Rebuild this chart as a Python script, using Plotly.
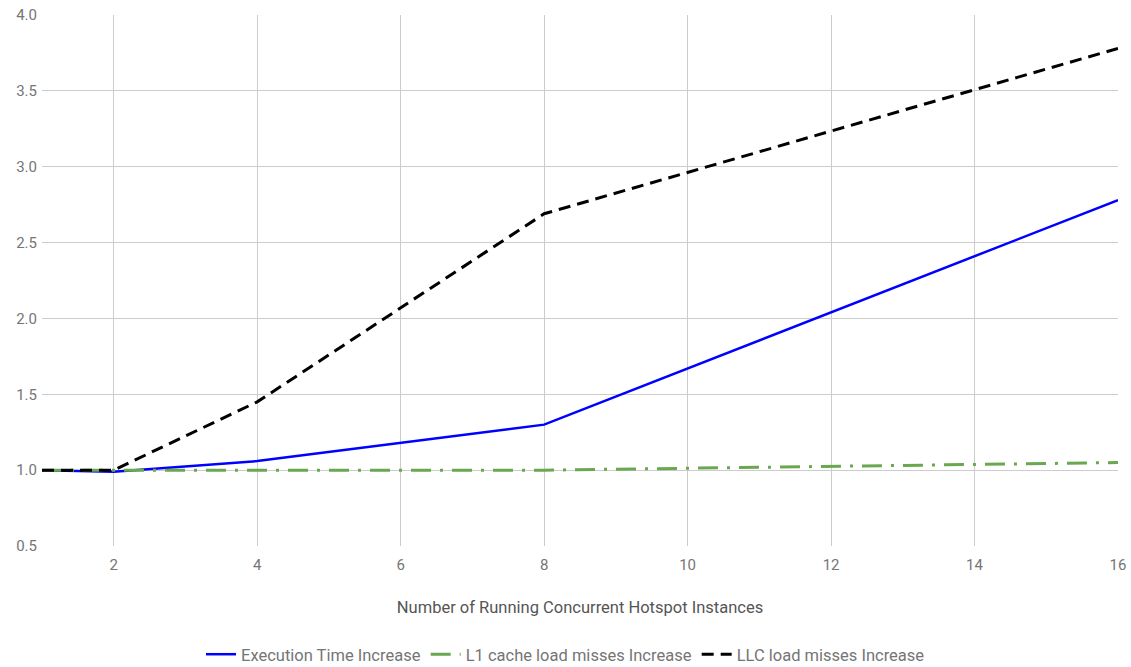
import plotly.graph_objects as go

# Number of concurrent Hotspot instances
instances = [1, 2, 4, 8, 16]

# Relative increases versus a single instance
exec_time_increase = [1.00, 0.99, 1.06, 1.30, 2.78]
l1_miss_increase = [1.00, 1.00, 1.00, 1.00, 1.05]
llc_miss_increase = [1.00, 1.00, 1.45, 2.69, 3.78]

x_ticks = [2, 4, 6, 8, 10, 12, 14, 16]
y_ticks = [0.5, 1.0, 1.5, 2.0, 2.5, 3.0, 3.5, 4.0]

FONT = "Roboto"
TICK_COLOR = "#757575"
GRID = "#cccccc"

fig = go.Figure()
fig.add_trace(go.Scatter(
    x=instances, y=exec_time_increase, mode="lines",
    name="Execution Time Increase",
    line=dict(color="#0000ff", width=2.5),
))
fig.add_trace(go.Scatter(
    x=instances, y=l1_miss_increase, mode="lines",
    name="L1 cache load misses Increase",
    line=dict(color="#6aa84f", width=3, dash="20px,9px,3px,9px"),
))
fig.add_trace(go.Scatter(
    x=instances, y=llc_miss_increase, mode="lines",
    name="LLC load misses Increase",
    line=dict(color="#000000", width=3, dash="12px,7px"),
))

fig.update_layout(
    width=1131, height=667,
    margin=dict(l=42, r=13, t=15, b=121),
    paper_bgcolor="white", plot_bgcolor="white",
    font=dict(family=FONT, size=15, color=TICK_COLOR),
    showlegend=True,
    legend=dict(
        orientation="h", xref="container", x=0.5, xanchor="center",
        yref="container", y=0.045, yanchor="top",
        font=dict(family=FONT, size=16.5, color="#757575"),
        itemwidth=30, traceorder="normal", entrywidth=0,
    ),
    xaxis=dict(
        range=[1, 16], tickvals=x_ticks, ticktext=[str(v) for v in x_ticks],
        showgrid=True, gridcolor=GRID, gridwidth=1, zeroline=False,
        showline=False, ticks="", automargin=False,
        tickfont=dict(family=FONT, size=15, color=TICK_COLOR),
        ticklabelstandoff=8,
        title=dict(text="Number of Running Concurrent Hotspot Instances",
                   font=dict(family=FONT, size=16.5, color="#555555"),
                   standoff=28),
    ),
    yaxis=dict(
        range=[0.5, 4.0], tickvals=y_ticks, ticktext=[f"{v:.1f}" for v in y_ticks],
        showgrid=True, gridcolor=GRID, gridwidth=1, zeroline=False,
        showline=False, ticks="", automargin=False,
        tickfont=dict(family=FONT, size=15, color=TICK_COLOR),
        ticklabelstandoff=4,
    ),
)

fig.write_html("out.html")
